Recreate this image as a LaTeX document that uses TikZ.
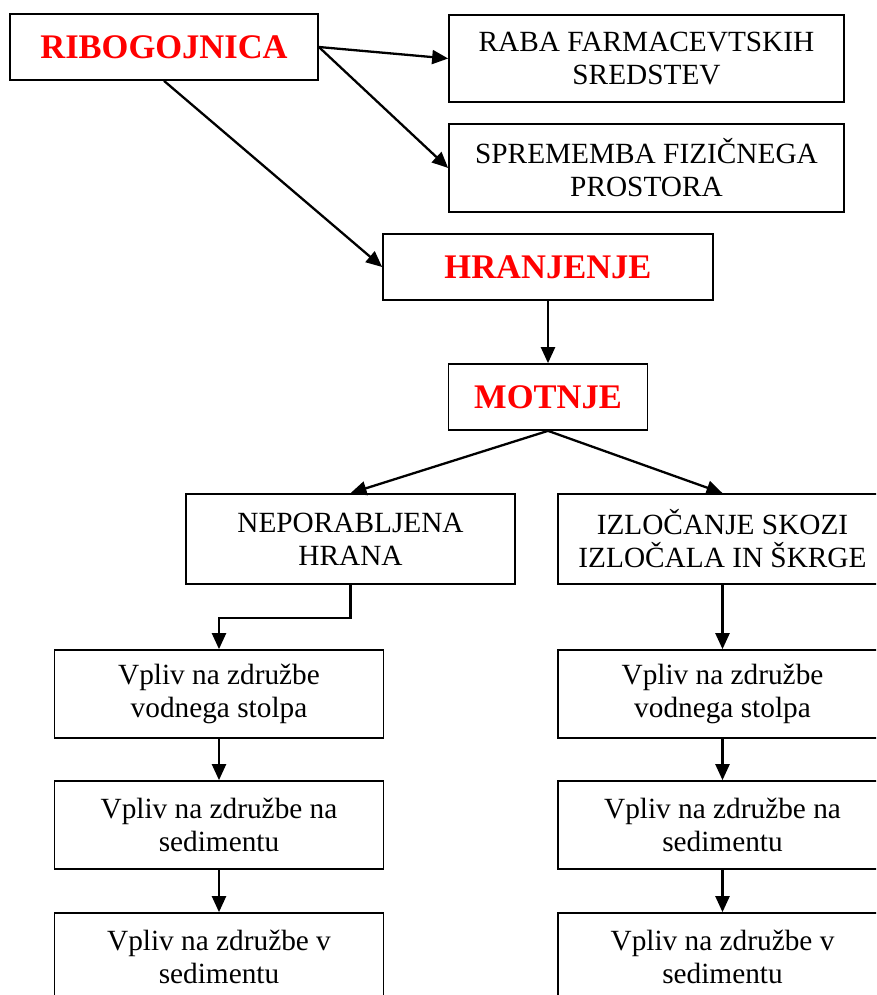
\documentclass[tikz,border=0pt]{standalone}
\usepackage{fontspec}
\setmainfont{Liberation Serif}
\usepackage{xcolor}
\usetikzlibrary{arrows.meta, positioning}

\begin{document}
\begin{tikzpicture}[x=1pt, y=1pt,
		box/.style={draw, line width=1.7pt, inner sep=2pt, align=center,
			font=\fontsize{29.3}{33}\selectfont},
		titlebox/.style={box, text=red, font=\fontsize{34.5}{40}\selectfont\bfseries},
		arr/.style={line width=2.3pt, -{Triangle[length=16pt, width=14pt]}}]
		\useasboundingbox (0,0) rectangle (876,-995);
		\clip (0,0) rectangle (876,-995);
		
		\draw (164,-47)    node[titlebox, minimum width=308, minimum height=66] (rib) {RIBOGOJNICA}
		(646.5,-58.5) node[box, minimum width=395, minimum height=87] (raba) {RABA FARMACEVTSKIH\\SREDSTEV}
		(646.5,-168)  node[box, minimum width=395, minimum height=88] (sprem) {SPREMEMBA FIZIČNEGA\\PROSTORA}
		(548,-267)    node[titlebox, minimum width=330, minimum height=66] (hran) {HRANJENJE}
		(548,-397)    node[titlebox, minimum width=199, minimum height=66] (mot) {MOTNJE}
		(350.5,-539)  node[box, minimum width=329, minimum height=90] (nep) {NEPORABLJENA\\HRANA}
		(722.5,-539)  node[box, minimum width=329, minimum height=90] (izl) {IZLOČANJE SKOZI\\IZLOČALA IN ŠKRGE};
		
		% columns below
		\draw (219,-694)   node[box, minimum width=329, minimum height=88] (l1) {Vpliv na združbe\\vodnega stolpa}
		(219,-825)   node[box, minimum width=329, minimum height=88] (l2) {Vpliv na združbe na\\sedimentu}
		(219,-957)   node[box, minimum width=329, minimum height=88] (l3) {Vpliv na združbe v\\sedimentu}
		(722.5,-694) node[box, minimum width=329, minimum height=88] (r1) {Vpliv na združbe\\vodnega stolpa}
		(722.5,-825) node[box, minimum width=329, minimum height=88] (r2) {Vpliv na združbe na\\sedimentu}
		(722.5,-957) node[box, minimum width=329, minimum height=88] (r3) {Vpliv na združbe v\\sedimentu};
		
		\draw[arr] (rib.east) -- (raba.west);
		\draw[arr] (rib.east) -- (sprem.west);
		\draw[arr] (rib.south) -- (hran.west);
		\draw[arr] (hran.south) -- (mot.north);
		\draw[arr] (mot.south) -- (nep.north);
		\draw[arr] (mot.south) -- (izl.north);
		\draw[arr] (nep.south) -- ++(0,-33) -| (l1.north);
		\draw[arr] (l1) -- (l2);
		\draw[arr] (l2) -- (l3);
		\draw[arr] (izl) -- (r1);
		\draw[arr] (r1) -- (r2);
		\draw[arr] (r2) -- (r3);
\end{tikzpicture}
\end{document}
